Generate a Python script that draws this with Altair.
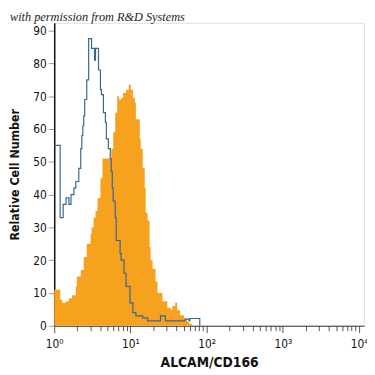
import altair as alt
import pandas as pd

# ALCAM/CD166 stained cells (filled orange histogram)
stain_x = [1.0, 1.2, 1.27, 1.43, 1.56, 1.71, 1.92, 1.98, 2.23, 2.44, 2.67, 3.0, 3.09, 3.28, 3.48,
           3.7, 4.04, 4.29, 5.6, 5.94, 6.31, 6.7, 7.11, 7.54, 8.0, 8.75, 9.5, 10.15, 10.77, 11.43,
           11.78, 13.27, 13.66, 14.5, 15.39, 15.85, 16.82, 17.85, 18.39, 19.52, 21.33, 22.63,
           26.27, 30.46, 33.33, 35.35, 38.64, 41.0, 44.86, 50.5, 55.2, 58.6, 64.0]
stain_y = [11, 8, 7, 7.5, 8.4, 9.3, 12, 15, 17, 21, 25, 28, 30, 33, 35,
           39, 45, 51, 54, 59, 65, 70, 69, 69.5, 71, 72, 73.5, 72, 69.5, 68,
           63, 57, 54, 48, 42, 34.5, 32, 24, 20, 17.4, 13.5, 10,
           7.5, 5.5, 5, 6, 7, 4.7, 3.2, 2.2, 1.2, 0.6, 0]

# Isotype control (open blue histogram)
iso_x = [1.0, 1.195, 1.31, 1.43, 1.56, 1.66, 1.81, 1.92, 2.1, 2.23, 2.3, 2.37, 2.44, 2.51, 2.67,
         2.83, 3.09, 3.38, 3.48, 3.81, 4.04, 4.16, 4.42, 4.69, 4.83, 5.13, 5.44, 5.6, 5.77, 5.94,
         6.31, 6.5, 7.32, 7.54, 8.24, 8.75, 9.86, 10.77, 11.78, 14.5, 16.82, 24.76, 28.71,
         52.0, 58.6, 60.3, 74.3, 81.2]
iso_y = [55, 33, 37, 39, 37, 40, 42, 44, 48, 54, 58, 61, 64, 69, 75,
         87.6, 84.6, 81, 84.6, 78, 72, 70.5, 65, 62, 57, 54, 51, 47, 42, 38,
         33, 26, 22, 20, 16, 12, 7, 4, 3, 2.4, 1.5, 3, 1.5,
         2, 1.5, 2.2, 2.2, 0]

tick_values = [m * 10 ** e for e in range(4) for m in range(1, 10)] + [10000]
y_ticks = list(range(0, 100, 10))
credit = ["with permission from R&D Systems"]

FONT = "DejaVu Sans Condensed, Liberation Sans, sans-serif"

stain = pd.DataFrame({"x": stain_x, "y": stain_y})
iso = pd.DataFrame({"x": iso_x, "y": iso_y})
note = pd.DataFrame({"t": credit})

xscale = alt.Scale(type="log", domain=[1, 10 ** 4.065], nice=False)
yscale = alt.Scale(domain=[0, 92.4], nice=False)

label_expr = ("datum.value == 1 ? '10⁰' : datum.value == 10 ? '10¹' : datum.value == 100 ? '10²' : "
              "datum.value == 1000 ? '10³' : datum.value == 10000 ? '10⁴' : ''")
major_test = "datum.value == 1 || datum.value == 10 || datum.value == 100 || datum.value == 1000 || datum.value == 10000"

xaxis = alt.Axis(values=tick_values, labelExpr=label_expr, title="ALCAM/CD166",
                 grid=False, domainColor="#333", tickColor="#555",
                 tickSize={"condition": {"test": major_test, "value": 7}, "value": 5},
                 labelFont=FONT, labelFontSize=12, labelColor="#111", labelPadding=6,
                 labelFlush=False, labelOverlap=False,
                 titleFont=FONT, titleFontSize=14, titleFontWeight="bold", titleColor="#111",
                 titlePadding=6)
yaxis = alt.Axis(values=y_ticks, tickCount=10, title="Relative Cell Number", grid=False,
                 domainColor="#111", domainWidth=1.5, tickColor="#999", tickSize=6,
                 labelFont=FONT, labelFontSize=12, labelColor="#111", labelPadding=2,
                 labelOverlap=False, labelFlush=False,
                 titleFont=FONT, titleFontSize=12.5, titleFontWeight="bold", titleColor="#111",
                 titlePadding=12)

area = alt.Chart(stain).mark_area(interpolate="step-after", color="#f7a21f", opacity=1).encode(
    x=alt.X("x:Q", scale=xscale, axis=xaxis),
    y=alt.Y("y:Q", scale=yscale, axis=yaxis),
)
line = alt.Chart(iso).mark_line(interpolate="step-after", color="#3a668c", strokeWidth=1.2).encode(
    x=alt.X("x:Q", scale=xscale, axis=xaxis),
    y=alt.Y("y:Q", scale=yscale, axis=yaxis),
)
text = alt.Chart(note).mark_text(
    align="left", baseline="alphabetic", font="Liberation Serif, DejaVu Serif, serif",
    fontStyle="italic", fontSize=12.5, color="#222"
).encode(text="t:N", x=alt.value(-45), y=alt.value(-2))

chart = alt.layer(area, line, text).properties(
    width=315, height=308,
    autosize=alt.AutoSizeParams(type="none"),
    padding={"left": 47, "top": 12, "right": 3, "bottom": 45},
).configure_view(stroke=None).configure(background="white")

chart.save("out.html", embed_options={"renderer": "svg", "actions": False})
